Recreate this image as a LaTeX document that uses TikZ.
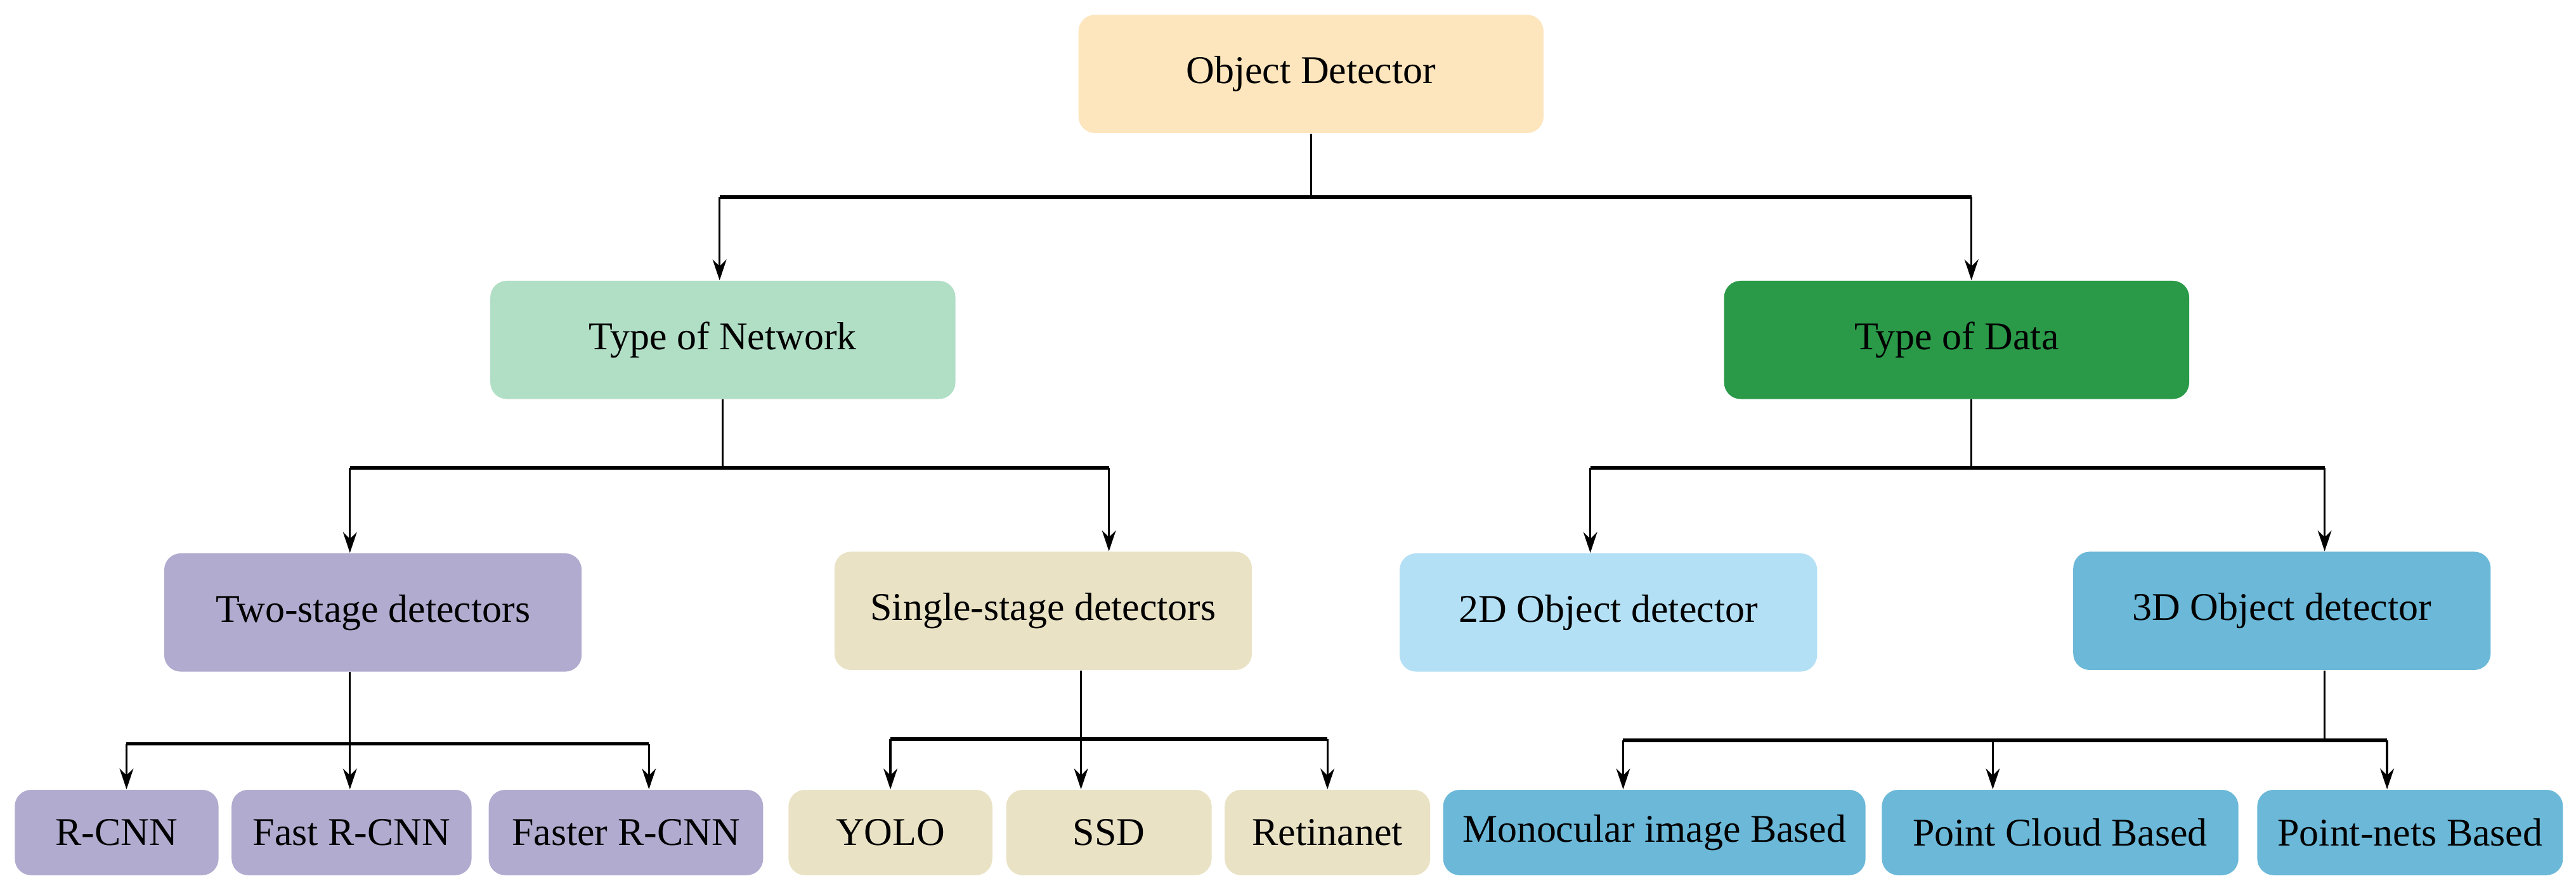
\documentclass[tikz,border=0pt]{standalone}
\usepackage{fontspec}
\setmainfont{Liberation Serif}
\usetikzlibrary{arrows.meta}
\definecolor{cOD}{HTML}{FDE5BD}
\definecolor{cTN}{HTML}{B1DFC6}
\definecolor{cTD}{HTML}{2A9A48}
\definecolor{cTS}{HTML}{B1ABCF}
\definecolor{cSS}{HTML}{EAE2C5}
\definecolor{c2D}{HTML}{B3E0F5}
\definecolor{c3D}{HTML}{6BB8D8}
\begin{document}
\begin{tikzpicture}[x=0.025cm,y=-0.025cm,
  box/.style={rounded corners=0.25cm,inner sep=0pt,font=\fontsize{17}{20}\selectfont,text=black},
  big/.style={box,minimum width=7.075cm,minimum height=1.8cm},
  mid/.style={box,minimum width=6.35cm,minimum height=1.8cm},
  low/.style={box,minimum height=1.3cm},
  stem/.style={line width=0.9pt},
  bar/.style={line width=1.6pt},
  arr/.style={line width=0.9pt,-{Stealth[length=9pt,width=6pt]}}]
\useasboundingbox (0,0) rectangle (1568,545);
\node[big,fill=cOD] (od) at (798,45) {Object Detector};
\node[big,fill=cTN] (tn) at (440,207) {Type of Network};
\node[big,fill=cTD] (td) at (1191,207) {Type of Data};
\node[mid,fill=cTS] (ts) at (227,373) {Two-stage detectors};
\node[mid,fill=cSS] (ss) at (635,372) {Single-stage detectors};
\node[mid,fill=c2D] (d2) at (979,373) {2D Object detector};
\node[mid,fill=c3D] (d3) at (1389,372) {3D Object detector};
\node[low,fill=cTS,minimum width=3.1cm] (rc) at (71,507) {R-CNN};
\node[low,fill=cTS,minimum width=3.65cm] (frc) at (214,507) {Fast R-CNN};
\node[low,fill=cTS,minimum width=4.175cm] (fsrc) at (381,507) {Faster R-CNN};
\node[low,fill=cSS,minimum width=3.1cm] (yolo) at (542,507) {YOLO};
\node[low,fill=cSS,minimum width=3.125cm] (ssd) at (675,507) {SSD};
\node[low,fill=cSS,minimum width=3.125cm] (ret) at (808,507) {Retinanet};
\node[low,fill=c3D,minimum width=6.425cm] (mono) at (1007,507) {Monocular image Based};
\node[low,fill=c3D,minimum width=5.425cm] (pc) at (1254,507) {Point Cloud Based};
\node[low,fill=c3D,minimum width=4.65cm] (pn) at (1467,507) {Point-nets Based};
% level 1
\coordinate (j0) at (798,120); \coordinate (l0) at (438,120); \coordinate (r0) at (1200,120);
\draw[stem] (od.south) -- (j0);
\draw[bar] (l0) -- (r0);
\draw[arr] (l0) -- (l0 |- tn.north);
\draw[arr] (r0) -- (r0 |- td.north);
% type of network
\coordinate (j1) at (440,285); \coordinate (l1) at (213,285); \coordinate (r1) at (675,285);
\draw[stem] (tn.south) -- (j1);
\draw[bar] (l1) -- (r1);
\draw[arr] (l1) -- (l1 |- ts.north);
\draw[arr] (r1) -- (r1 |- ss.north);
% type of data
\coordinate (j2) at (1200,285); \coordinate (l2) at (968,285); \coordinate (r2) at (1415,285);
\draw[stem] (j2 |- td.south) -- (j2);
\draw[bar] (l2) -- (r2);
\draw[arr] (l2) -- (l2 |- d2.north);
\draw[arr] (r2) -- (r2 |- d3.north);
% two-stage
\coordinate (j3) at (213,453); \coordinate (l3) at (77,453); \coordinate (r3) at (395,453);
\draw[stem] (j3 |- ts.south) -- (j3);
\draw[bar] (l3) -- (r3);
\draw[arr] (l3) -- (l3 |- rc.north);
\draw[arr] (j3) -- (j3 |- frc.north);
\draw[arr] (r3) -- (r3 |- fsrc.north);
% single-stage
\coordinate (j4) at (658,450); \coordinate (l4) at (542,450); \coordinate (r4) at (808,450);
\draw[stem] (j4 |- ss.south) -- (j4);
\draw[bar] (l4) -- (r4);
\draw[arr] (l4) -- (l4 |- yolo.north);
\draw[arr] (j4) -- (j4 |- ssd.north);
\draw[arr] (r4) -- (r4 |- ret.north);
% 3D
\coordinate (j5) at (1415,451); \coordinate (l5) at (988,451); \coordinate (m5) at (1213,451); \coordinate (r5) at (1453,451);
\draw[stem] (j5 |- d3.south) -- (j5);
\draw[bar] (l5) -- (r5);
\draw[arr] (l5) -- (l5 |- mono.north);
\draw[arr] (m5) -- (m5 |- pc.north);
\draw[arr] (r5) -- (r5 |- pn.north);
\end{tikzpicture}
\end{document}
